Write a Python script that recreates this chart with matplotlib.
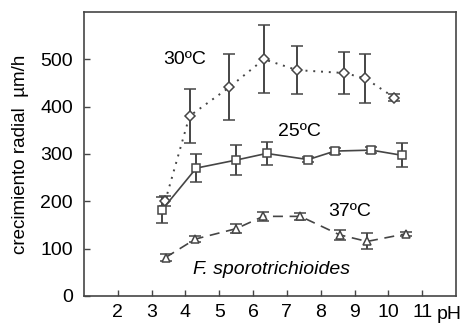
import matplotlib
matplotlib.use("Agg")
import matplotlib.pyplot as plt

plt.rcParams['font.family'] = ['Liberation Sans', 'DejaVu Sans']

# 30 C series (dotted, diamonds)
ph30 = [3.40, 4.12, 5.30, 6.32, 7.31, 8.69, 9.31, 10.18]
gr30 = [200, 380, 441, 500, 477, 471, 460, 419]
er30 = [10, 57, 70, 72, 50, 45, 52, 8]

# 25 C series (solid, squares)
ph25 = [3.31, 4.32, 5.50, 6.40, 7.63, 8.42, 9.50, 10.41]
gr25 = [182, 270, 287, 301, 288, 306, 308, 297]
er25 = [27, 30, 32, 25, 5, 6, 6, 25]

# 37 C series (dashed, triangles)
ph37 = [3.41, 4.29, 5.50, 6.30, 7.40, 8.56, 9.37, 10.51]
gr37 = [81, 120, 142, 168, 168, 129, 115, 131]
er37 = [8, 7, 10, 10, 8, 10, 17, 5]

xticks = [2, 3, 4, 5, 6, 7, 8, 9, 10, 11]
yticks = [0, 100, 200, 300, 400, 500]

gray = '#454545'

fig = plt.figure(figsize=(4.72, 3.23), dpi=100)
ax = fig.add_axes([0.178, 0.084, 0.788, 0.879])

common = dict(color=gray, ecolor=gray, elinewidth=1.4, capsize=4, capthick=1.4,
              markerfacecolor='white', markeredgecolor=gray, markeredgewidth=1.1)
ax.errorbar(ph30, gr30, yerr=er30, linestyle=(0, (1, 3)), linewidth=1.4, marker='D',
            markersize=5, **common)
ax.errorbar(ph25, gr25, yerr=er25, linestyle='-', linewidth=1.2, marker='s',
            markersize=6, **common)
ax.errorbar(ph37, gr37, yerr=er37, linestyle=(0, (6, 4)), linewidth=1.2, marker='^',
            markersize=6, **common)

ax.set_xlim(1, 12)
ax.set_ylim(0, 600)
ax.set_xticks(xticks)
ax.set_yticks(yticks)
ax.tick_params(axis='both', direction='in', length=4, width=1, color=gray,
               labelsize=14)
ax.tick_params(axis='x', pad=6)
ax.tick_params(axis='y', pad=8)
for s in ax.spines.values():
    s.set_color(gray)
    s.set_linewidth(1.2)

ax.text(11.8, -0.035, 'pH', transform=ax.get_xaxis_transform(), fontsize=14,
        ha='center', va='top')

ax.set_ylabel('crecimiento radial  \u00b5m/h', fontsize=13.5, labelpad=8)

ax.text(3.97, 500, '30\u00baC', fontsize=14, ha='center', va='center')
ax.text(7.38, 347, '25\u00baC', fontsize=14, ha='center', va='center')
ax.text(8.86, 178, '37\u00baC', fontsize=14, ha='center', va='center')
ax.text(6.55, 55, 'F. sporotrichioides', fontsize=14, style='italic',
        ha='center', va='center')

fig.savefig('out.png', dpi=100)
